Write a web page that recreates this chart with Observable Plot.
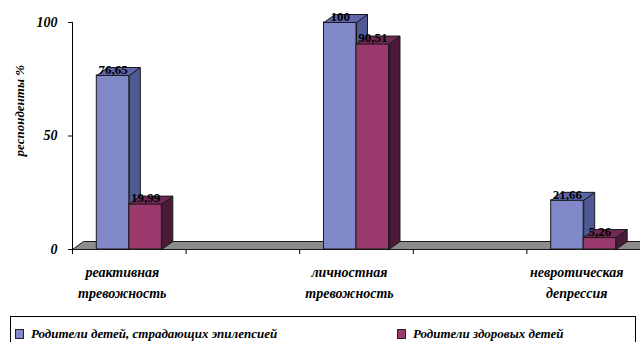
<!DOCTYPE html>
<html>
<head>
<meta charset="utf-8">
<script src="https://cdn.jsdelivr.net/npm/d3@7"></script>
<script src="https://cdn.jsdelivr.net/npm/@observablehq/plot@0.6"></script>
<style>
  html, body { margin: 0; padding: 0; background: #fff; overflow: hidden; }
  #wrap { width: 640px; height: 342px; position: relative; overflow: hidden; }
  .legend {
    position: absolute; left: 10px; top: 316px; width: 626px; height: 40px;
    border: 1px solid #000; box-sizing: border-box;
    font-family: "Liberation Serif", "Times New Roman", Tinos, "DejaVu Serif", serif; font-style: italic; font-weight: bold; font-size: 13px;
  }
  .legend .item { position: absolute; top: 9px; display: flex; align-items: center; white-space: nowrap; }
  .legend .sw { width: 7px; height: 8px; border: 1px solid #222; margin-right: 7px; }
</style>
</head>
<body>
<div id="wrap"></div>
<script>
// ---- data ----
const categories = ["реактивная тревожность", "личностная тревожность", "невротическая депрессия"];
const seriesNames = ["Родители детей, страдающих эпилепсией", "Родители здоровых детей"];
const epilepsy = [76.65, 100, 21.66];
const healthy = [19.99, 90.51, 5.26];
const yTicks = [0, 50, 100];
const yTitle = "респонденты %";

// ---- styles ----
const FONT = '"Liberation Serif", "Times New Roman", Tinos, "DejaVu Serif", serif';
const front = ["#8189c9", "#9b3a6c"];
const side = ["#4f5996", "#4c1a39"];
const top_ = ["#5d66ab", "#6f2852"];

const W = 640, H = 312, mL = 72, mR = 0, mT = 22, mB = 63;
const nSlots = 5;
const pxPerX = (W - mL - mR) / nSlots;
const pxPerY = (H - mT - mB) / 100;
const DX = 11 / pxPerX, DY = 8 / pxPerY;
const BW = 32.5 / pxPerX;

const slot = i => 2 * i + 0.5;
const series = [epilepsy, healthy];
const bars = [];
series.forEach((vals, s) => vals.forEach((v, i) => {
  const c = slot(i);
  const x1 = s === 0 ? c - BW : c;
  const x2 = s === 0 ? c : c + BW;
  bars.push({s, i, v, x1, x2});
}));

function sidePoly(b) {
  const id = `side-${b.s}-${b.i}`;
  return [[b.x2, 0], [b.x2 + DX, DY], [b.x2 + DX, b.v + DY], [b.x2, b.v], [b.x2, 0]]
    .map(([x, y]) => ({id, x, y}));
}
function topPoly(b) {
  const id = `top-${b.s}-${b.i}`;
  return [[b.x1, b.v], [b.x2, b.v], [b.x2 + DX, b.v + DY], [b.x1 + DX, b.v + DY], [b.x1, b.v]]
    .map(([x, y]) => ({id, x, y}));
}
const floor = [[0, 0], [nSlots + 0.3, 0], [nSlots + 0.3 + DX, DY], [DX, DY], [0, 0]].map(([x, y]) => ({id: "floor", x, y}));

const marks = [
  Plot.line(floor, {x: "x", y: "y", z: "id", fill: "#8c8c8c", stroke: "#1a1a1a", strokeWidth: 1, curve: "linear"}),
  Plot.ruleX([0], {y1: 0, y2: 100, stroke: "#000", strokeWidth: 1})
];
for (let s = 0; s < 2; s++) {
  const bs = bars.filter(b => b.s === s);
  marks.push(
    Plot.rect(bs, {x1: "x1", x2: "x2", y1: 0, y2: "v", fill: front[s], stroke: "#1a1a1a", strokeWidth: 1}),
    Plot.line(bs.flatMap(sidePoly), {x: "x", y: "y", z: "id", fill: side[s], stroke: "#1a1a1a", strokeWidth: 1}),
    Plot.line(bs.flatMap(topPoly), {x: "x", y: "y", z: "id", fill: top_[s], stroke: "#1a1a1a", strokeWidth: 1})
  );
}
marks.push(
  Plot.text(bars, {
    x: d => (d.x1 + d.x2) / 2, y: "v", dy: -6,
    text: d => String(d.v).replace(".", ","),
    fontSize: 13, fontFamily: FONT, fontStyle: "normal", fontWeight: "bold", fill: "#000"
  }),
  Plot.axisY({ticks: yTicks, tickSize: 4, tickPadding: 11, label: null, fontSize: 14, fontFamily: FONT}),
  Plot.axisX({ticks: d3.range(0, nSlots + 1), tickSize: 5, tickFormat: () => "", label: null}),
  Plot.text(categories, {
    x: (d, i) => slot(i), frameAnchor: "bottom", lineAnchor: "top", dy: 13, dx: -7,
    text: d => d.replace(" ", "\n"), lineHeight: 1.5, fontSize: 14, fontFamily: FONT
  }),
  Plot.text([yTitle], {
    frameAnchor: "left", y: [41], dx: -53, rotate: -90, text: d => d, fontSize: 13, fontFamily: FONT
  })
);

const chart = Plot.plot({
  width: W, height: H,
  marginLeft: mL, marginRight: mR, marginTop: mT, marginBottom: mB,
  x: {domain: [0, nSlots], type: "linear"},
  y: {domain: [0, 100]},
  style: {fontFamily: FONT, fontStyle: "italic", fontWeight: "bold", fontSize: "13px", color: "#000", background: "transparent"},
  marks
});
const wrap = document.getElementById("wrap");
wrap.appendChild(chart);

const legend = document.createElement("div");
legend.className = "legend";
const lefts = [4, 386];
seriesNames.forEach((name, s) => {
  const it = document.createElement("div");
  it.className = "item";
  it.style.left = lefts[s] + "px";
  const sw = document.createElement("span");
  sw.className = "sw";
  sw.style.background = front[s];
  const tx = document.createElement("span");
  tx.textContent = name;
  it.appendChild(sw); it.appendChild(tx);
  legend.appendChild(it);
});
wrap.appendChild(legend);
</script>
</body>
</html>
